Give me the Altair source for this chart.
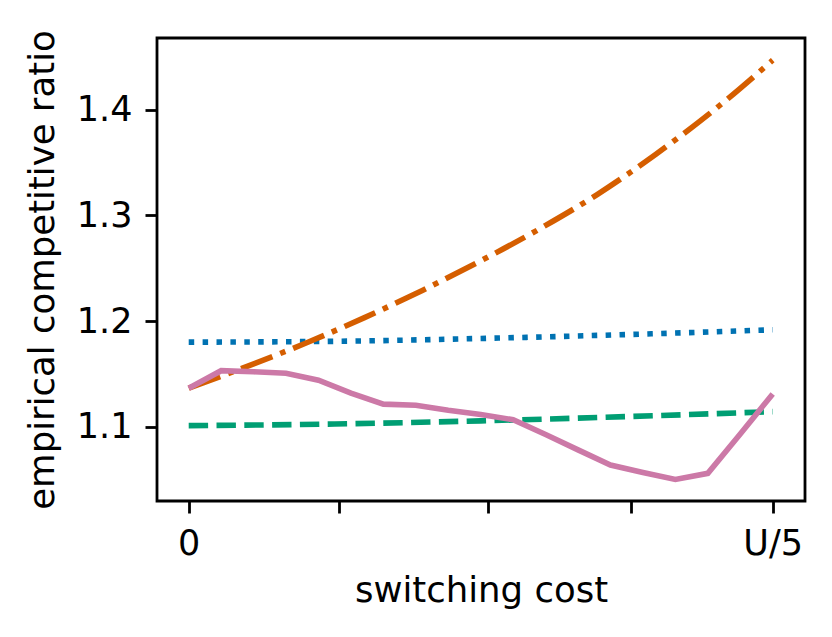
import altair as alt
import pandas as pd

# x positions are fractions of the switching-cost range [0, U/5]
blue_x = [0.0, 0.25, 0.5, 0.75, 1.0]
blue_y = [1.180, 1.1808, 1.1835, 1.1872, 1.1917]

orange_x = [0.0, 0.1, 0.2, 0.3, 0.4, 0.5, 0.6, 0.7, 0.8, 0.9, 1.0]
orange_y = [1.1365, 1.157, 1.179, 1.203, 1.229, 1.257, 1.287, 1.320, 1.358, 1.400, 1.447]

green_x = [0.0, 0.25, 0.5, 0.75, 1.0]
green_y = [1.101, 1.1025, 1.1055, 1.1095, 1.1142]

pink_x = [k / 18 for k in range(19)]
pink_y = [1.1364, 1.1530, 1.1520, 1.1505, 1.1440, 1.1317, 1.1213, 1.1203, 1.1155,
          1.1115, 1.1065, 1.0925, 1.0780, 1.0637, 1.0565, 1.0500, 1.0558, 1.0930, 1.1310]

x_ticks = [0.0, 0.2568, 0.512, 0.757, 1.0]
y_ticks = [1.1, 1.2, 1.3, 1.4]

series = [
    ("blue", blue_x, blue_y, "#0072B2", [5.5, 8.4], "monotone"),
    ("orange", orange_x, orange_y, "#D55E00", [33.6, 8.4, 5.5, 8.4], "monotone"),
    ("green", green_x, green_y, "#009E73", [19.4, 8.4], "monotone"),
    ("pink", pink_x, pink_y, "#CC79A7", [1, 0], "linear"),
]

x_scale = alt.Scale(domain=[-0.0543, 1.0553], nice=False, zero=False)
y_scale = alt.Scale(domain=[1.0296, 1.468], nice=False, zero=False)

layers = []
for i, (name, xs, ys, color, dash, interp) in enumerate(series):
    df = pd.DataFrame({"x": xs, "y": ys})
    enc = dict(
        x=alt.X("x:Q", scale=x_scale,
                axis=alt.Axis(values=x_ticks,
                              labelExpr="datum.value == 0 ? '0' : (datum.value == 1 ? 'U/5' : '')",
                              title="switching cost", titleX=324, titleY=100.7,
                              titleBaseline="alphabetic", titleAlign="center")),
        y=alt.Y("y:Q", scale=y_scale,
                axis=alt.Axis(values=y_ticks, format=".1f",
                              title="empirical competitive ratio", titleX=-104, titleY=231.5,
                              titleAngle=270, titleBaseline="alphabetic", titleAlign="center")),
    )
    mark_kwargs = dict(color=color, strokeWidth=5.6, interpolate=interp)
    if name != "pink":
        mark_kwargs["strokeDash"] = dash
    layers.append(alt.Chart(df).mark_line(**mark_kwargs).encode(**enc))

chart = alt.layer(*layers).properties(
    width=648, height=463,
    autosize=alt.AutoSizeParams(type="none"),
    padding={"left": 149, "top": 30, "right": 10, "bottom": 120},
).configure(font="DejaVu Sans").configure_axis(
    labelFont="DejaVu Sans", titleFont="DejaVu Sans",
    labelFontSize=35, titleFontSize=35.5, titleFontWeight="normal",
    labelColor="black", titleColor="black",
    tickColor="black", tickWidth=2.8, tickSize=12, labelPadding=13,
    domain=False, grid=False,
).configure_view(stroke="black", strokeWidth=2.8)

chart.save("out.html", embed_options={"renderer": "svg", "actions": False})
